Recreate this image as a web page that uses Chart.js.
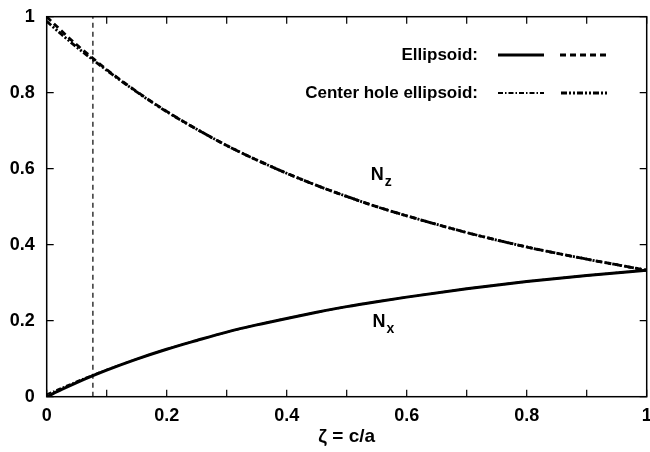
<!DOCTYPE html>
<html>
<head>
<meta charset="utf-8">
<script src="https://cdn.jsdelivr.net/npm/chart.js@4"></script>
<style>
  html, body { margin: 0; padding: 0; background: #fff; }
  #wrap { width: 650px; height: 452px; }
</style>
</head>
<body>
<div id="wrap"><canvas id="chart" width="650" height="452"></canvas></div>
<script>
// values
const zeta   = [0, 0.025, 0.05, 0.075, 0.1, 0.15, 0.2, 0.25, 0.3, 0.35, 0.4, 0.45, 0.5, 0.55, 0.6, 0.7, 0.8, 0.9, 1.0];
const nzEll  = [1.000, 0.962, 0.926, 0.893, 0.861, 0.803, 0.751, 0.704, 0.661, 0.623, 0.588, 0.556, 0.527, 0.500, 0.476, 0.432, 0.394, 0.362, 0.333];
const nxEll  = [0.000, 0.019, 0.037, 0.054, 0.070, 0.099, 0.125, 0.148, 0.170, 0.189, 0.206, 0.222, 0.237, 0.250, 0.262, 0.284, 0.303, 0.319, 0.333];
const nzHole = [0.988, 0.953, 0.920, 0.889, 0.859, 0.802, 0.750, 0.704, 0.661, 0.623, 0.588, 0.556, 0.527, 0.500, 0.476, 0.432, 0.394, 0.362, 0.333];
const nxHole = [0.006, 0.023, 0.040, 0.056, 0.071, 0.099, 0.125, 0.148, 0.170, 0.189, 0.206, 0.222, 0.237, 0.250, 0.262, 0.284, 0.303, 0.319, 0.333];
const cutX   = [0.077, 0.077];
const cutY   = [0, 1];

const FONT = "'Liberation Sans', Arial, sans-serif";

function pts(xs, ys) {
    return xs.map((x, i) => ({ x: x, y: ys[i] }));
}

const styles = {
    nxEll:  { width: 3, dash: [] },
    nzEll:  { width: 2.8, dash: [6, 4] },
    nxHole: { width: 2, dash: [5, 2, 1.5, 2] },
    nzHole: { width: 2.8, dash: [6, 2, 2, 2, 2, 2] }
};

function lineSet(label, data, st) {
    return {
        label: label,
        data: data,
        borderColor: '#000',
        borderWidth: st.width,
        borderDash: st.dash,
        pointRadius: 0,
        fill: false,
        cubicInterpolationMode: 'monotone'
    };
}

// inward ticks, frame, legend and curve labels
const decor = {
    id: 'decor',
    afterDraw(chart) {
        const ctx = chart.ctx;
        const a = chart.chartArea;
        const xs = chart.scales.x, ys = chart.scales.y;
        ctx.save();
        ctx.strokeStyle = '#000';
        ctx.lineWidth = 1.5;
        ctx.setLineDash([]);
        ctx.strokeRect(a.left, a.top, a.right - a.left, a.bottom - a.top);
        ctx.lineWidth = 1.2;
        ctx.beginPath();
        xs.ticks.forEach(t => {
            const px = xs.getPixelForValue(t.value);
            ctx.moveTo(px, a.bottom); ctx.lineTo(px, a.bottom - 7);
            ctx.moveTo(px, a.top);    ctx.lineTo(px, a.top + 7);
        });
        ys.ticks.forEach(t => {
            const py = ys.getPixelForValue(t.value);
            ctx.moveTo(a.left, py);  ctx.lineTo(a.left + 7, py);
            ctx.moveTo(a.right, py); ctx.lineTo(a.right - 7, py);
        });
        ctx.stroke();

        // legend
        ctx.fillStyle = '#000';
        ctx.font = 'bold 17px ' + FONT;
        ctx.textAlign = 'right';
        ctx.textBaseline = 'middle';
        ctx.fillText('Ellipsoid:', 478, 55);
        ctx.fillText('Center hole ellipsoid:', 478, 93);
        const sample = (x0, x1, y, st) => {
            ctx.lineWidth = st.width;
            ctx.setLineDash(st.dash);
            ctx.beginPath();
            ctx.moveTo(x0, y); ctx.lineTo(x1, y);
            ctx.stroke();
        };
        sample(498, 544, 55, styles.nxEll);
        sample(560, 607, 55, styles.nzEll);
        sample(498, 544, 93, styles.nxHole);
        sample(561, 607, 93, styles.nzHole);
        ctx.setLineDash([]);

        // curve labels
        const label = (sub, zx, vy) => {
            const px = xs.getPixelForValue(zx), py = ys.getPixelForValue(vy);
            ctx.textAlign = 'left';
            ctx.font = 'bold 18px ' + FONT;
            ctx.fillText('N', px, py);
            ctx.font = 'bold 14px ' + FONT;
            ctx.fillText(sub, px + 14, py + 7);
        };
        label('z', 0.540, 0.583);
        label('x', 0.543, 0.196);
        ctx.restore();
    }
};

new Chart(document.getElementById('chart'), {
    type: 'line',
    data: {
        datasets: [
            lineSet('Nx ellipsoid', pts(zeta, nxEll), styles.nxEll),
            lineSet('Nz ellipsoid', pts(zeta, nzEll), styles.nzEll),
            lineSet('Nx center hole', pts(zeta, nxHole), styles.nxHole),
            lineSet('Nz center hole', pts(zeta, nzHole), styles.nzHole),
            {
                label: 'cut',
                data: pts(cutX, cutY),
                borderColor: '#000',
                borderWidth: 1.2,
                borderDash: [5, 4],
                pointRadius: 0,
                fill: false
            }
        ]
    },
    options: {
        responsive: false,
        animation: false,
        layout: { padding: { top: 16.7, right: 3.3, left: 0, bottom: 0 } },
        plugins: { legend: { display: false }, tooltip: { enabled: false } },
        scales: {
            x: {
                type: 'linear',
                min: 0, max: 1,
                grid: { display: false, drawTicks: false },
                border: { display: false },
                ticks: {
                    stepSize: 0.1,
                    autoSkip: false,
                    maxRotation: 0,
                    padding: 9,
                    color: '#000',
                    font: { family: FONT, size: 18, weight: 'bold' },
                    callback: v => {
                        const k = Math.round(v * 10);
                        if (k % 2 !== 0) return '';
                        return k === 0 ? '0' : (k === 10 ? '1' : (k / 10).toFixed(1));
                    }
                },
                title: {
                    display: true,
                    text: 'ζ = c/a',
                    color: '#000',
                    font: { family: FONT, size: 19, weight: 'bold' },
                    padding: { top: 2 }
                },
                afterFit: s => { s.height = 55.3; s.paddingLeft = 0; s.paddingRight = 0; }
            },
            y: {
                min: 0, max: 1,
                grid: { display: false, drawTicks: false },
                border: { display: false },
                ticks: {
                    stepSize: 0.2,
                    padding: 12,
                    color: '#000',
                    font: { family: FONT, size: 18, weight: 'bold' },
                    callback: v => {
                        const k = Math.round(v * 10);
                        return k === 0 ? '0' : (k === 10 ? '1' : (k / 10).toFixed(1));
                    }
                },
                afterFit: s => { s.width = 46.7; s.paddingTop = 0; s.paddingBottom = 0; }
            }
        }
    },
    plugins: [decor]
});
</script>
</body>
</html>
